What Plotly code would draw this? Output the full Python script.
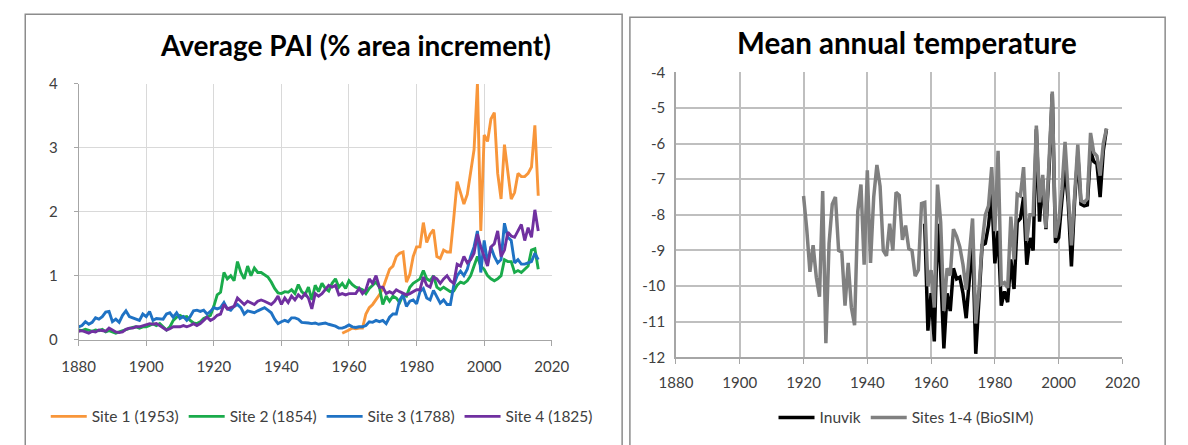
import plotly.graph_objects as go

# ---- Average PAI (% area increment), 1880-2016 ----
pai_start = 1880
site1_start = 1958

site1_pai = [
    0.10, 0.12,
    0.15, 0.18, 0.17, 0.18, 0.18, 0.40, 0.50, 0.55, 0.62, 0.70,
    0.80, 0.95, 1.10, 1.15, 1.30, 1.35, 1.37, 0.90, 1.02, 1.30,
    1.45, 1.45, 1.83, 1.52, 1.65, 1.72, 1.30, 1.27, 1.40, 1.37,
    1.37, 1.90, 2.47, 2.30, 2.12, 2.27, 2.60, 2.97, 4.00, 1.70,
    3.20, 3.10, 3.45, 3.55, 2.60, 2.20, 3.05, 2.60, 2.20, 2.30,
    2.60, 2.55, 2.55, 2.60, 2.70, 3.35, 2.25,
]

site2_pai = [
    0.15, 0.14, 0.16, 0.15, 0.13, 0.15, 0.14, 0.16, 0.12, 0.14,
    0.12, 0.10, 0.12, 0.14, 0.16, 0.17, 0.19, 0.20, 0.18, 0.20,
    0.20, 0.22, 0.25, 0.22, 0.25, 0.20, 0.15, 0.20, 0.30, 0.35,
    0.38, 0.35, 0.36, 0.30, 0.26, 0.25, 0.28, 0.33, 0.35, 0.38,
    0.52, 0.70, 0.74, 1.05, 0.95, 1.00, 0.92, 1.22, 1.05, 0.95,
    1.15, 1.00, 1.12, 1.05, 1.05, 1.02, 0.98, 0.90, 0.80, 0.73,
    0.72, 0.75, 0.74, 0.78, 0.72, 0.86, 0.75, 0.70, 0.82, 0.62,
    0.85, 0.75, 0.88, 0.80, 0.76, 0.88, 0.95, 0.82, 0.88, 0.80,
    0.92, 0.86, 0.82, 0.80, 0.78, 0.72, 0.80, 0.85, 0.90, 0.82,
    0.55, 0.68, 0.60, 0.68, 0.65, 0.58, 0.70, 0.68, 0.82, 0.88,
    0.92, 0.95, 1.08, 0.95, 0.92, 1.00, 0.82, 0.78, 0.82, 0.78,
    0.75, 0.76, 0.85, 0.90, 0.88, 0.92, 1.00, 1.15, 1.30, 1.15,
    1.10, 1.00, 0.95, 0.92, 0.95, 1.00, 1.25, 1.22, 1.22, 1.05,
    1.08, 1.05, 1.10, 1.15, 1.40, 1.42, 1.10,
]

site3_pai = [
    0.20, 0.22, 0.28, 0.24, 0.27, 0.34, 0.32, 0.36, 0.43, 0.44,
    0.28, 0.32, 0.27, 0.38, 0.45, 0.36, 0.34, 0.32, 0.30, 0.40,
    0.36, 0.44, 0.30, 0.33, 0.32, 0.32, 0.40, 0.42, 0.35, 0.42,
    0.33, 0.36, 0.30, 0.36, 0.45, 0.46, 0.44, 0.46, 0.40, 0.44,
    0.50, 0.48, 0.50, 0.58, 0.48, 0.46, 0.52, 0.55, 0.50, 0.40,
    0.45, 0.44, 0.42, 0.45, 0.48, 0.50, 0.46, 0.42, 0.32, 0.25,
    0.28, 0.30, 0.28, 0.34, 0.34, 0.32, 0.27, 0.27, 0.26, 0.25,
    0.26, 0.24, 0.25, 0.26, 0.24, 0.23, 0.21, 0.18, 0.18, 0.20,
    0.23, 0.20, 0.19, 0.20, 0.20, 0.22, 0.28, 0.27, 0.30, 0.28,
    0.30, 0.25, 0.35, 0.40, 0.40, 0.62, 0.70, 0.52, 0.60, 0.62,
    0.56, 0.75, 0.80, 0.65, 0.62, 0.77, 0.68, 0.57, 0.62, 0.55,
    0.55, 0.85, 1.00, 1.07, 1.00, 1.10, 1.30, 1.45, 1.70, 1.05,
    1.55, 1.20, 1.45, 1.30, 1.20, 1.25, 1.82, 1.60, 1.55, 1.20,
    1.25, 1.18, 1.18, 1.20, 1.22, 1.35, 1.25,
]

site4_pai = [
    0.13, 0.14, 0.12, 0.10, 0.13, 0.12, 0.15, 0.14, 0.13, 0.18,
    0.15, 0.12, 0.11, 0.12, 0.16, 0.18, 0.18, 0.20, 0.20, 0.22,
    0.24, 0.25, 0.24, 0.25, 0.22, 0.18, 0.15, 0.17, 0.20, 0.20,
    0.20, 0.22, 0.20, 0.22, 0.25, 0.22, 0.25, 0.30, 0.35, 0.30,
    0.33, 0.38, 0.40, 0.55, 0.48, 0.50, 0.52, 0.65, 0.60, 0.55,
    0.60, 0.58, 0.55, 0.60, 0.62, 0.60, 0.58, 0.55, 0.60, 0.68,
    0.55, 0.65, 0.58, 0.68, 0.62, 0.70, 0.65, 0.72, 0.65, 0.48,
    0.72, 0.68, 0.72, 0.78, 0.85, 0.82, 0.85, 0.70, 0.72, 0.70,
    0.72, 0.72, 0.72, 0.80, 0.72, 0.78, 0.95, 0.88, 1.00, 0.82,
    0.82, 0.72, 0.75, 0.72, 0.78, 0.75, 0.72, 0.70, 0.72, 0.75,
    0.78, 0.78, 0.98, 0.85, 0.82, 0.98, 0.95, 0.88, 0.95, 1.00,
    0.92, 0.88, 1.18, 1.15, 1.30, 1.20, 1.25, 1.35, 1.65, 1.45,
    1.30, 1.15, 1.45, 1.50, 1.70, 1.30, 1.40, 1.68, 1.62, 1.60,
    1.70, 1.80, 1.55, 1.75, 1.60, 2.03, 1.70,
]

pai_names = ["Site 1 (1953)", "Site 2 (1854)", "Site 3 (1788)", "Site 4 (1825)"]
pai_colors = ["#F8963A", "#1AAB4B", "#1F72C4", "#7030A0"]

# ---- Mean annual temperature ----
biosim_start = 1920
inuvik_start = 1958

biosim_temp = [
    -7.47, -8.40, -9.60, -8.85, -9.75, -10.30, -7.33, -11.60, -8.80, -7.70,
    -7.50, -9.00, -9.05, -10.55, -9.35, -10.60, -11.10, -7.90, -7.15, -9.40,
    -6.75, -9.35, -7.50, -6.60, -7.20, -9.00, -9.15, -8.25, -9.00, -7.37,
    -7.45, -8.70, -8.30, -8.95, -9.00, -9.72, -9.55, -7.68, -7.65, -10.00,
    -9.55, -10.60, -7.15, -8.20, -10.70, -9.50, -9.70, -8.40, -8.60, -8.90,
    -9.40, -10.10, -9.10, -8.10, -11.05, -10.10, -8.80, -8.00, -7.75, -6.66,
    -8.46, -6.20, -9.95, -9.90, -10.05, -8.05, -9.25, -7.42, -7.47, -6.66,
    -8.73, -8.00, -8.00, -5.49, -7.65, -6.88, -8.37, -6.60, -4.54, -8.64,
    -8.19, -7.30, -5.95, -7.40, -8.86, -7.47, -6.03, -7.60, -7.65, -7.55,
    -5.70, -6.25, -6.35, -6.90, -6.00, -5.58,
]

inuvik_temp = [
    -8.25, -11.25, -10.20, -11.55, -8.25, -9.60, -11.75, -10.20, -10.70, -9.50,
    -9.80, -9.75, -10.20, -10.90, -9.80, -8.70, -11.90, -10.50, -8.85, -8.80,
    -8.30, -7.40, -9.36, -8.45, -10.55, -10.15, -10.45, -9.25, -10.08, -8.20,
    -8.10, -7.50, -9.40, -8.65, -9.00, -5.60, -8.19, -7.00, -8.40, -6.70,
    -4.60, -8.78, -8.64, -7.60, -6.66, -7.65, -9.45, -7.60, -6.30, -7.70,
    -7.75, -7.72, -6.20, -6.50, -6.57, -7.50, -6.20, -5.58,
]

x_ticks = [1880, 1900, 1920, 1940, 1960, 1980, 2000, 2020]
pai_ticks = [0, 1, 2, 3, 4]
temp_ticks = [-12, -11, -10, -9, -8, -7, -6, -5, -4]
# plain hyphen-minus labels for the temperature axis
temp_tick_text = [str(t) for t in temp_ticks]

# ---- page geometry (pixels) ----
W, H = 1188, 445
FONT = "Lato"
TICK_COLOR = "#404040"


def px_x(p):
    return p / W


def px_y(p):
    return 1 - p / H


def years(start, values):
    return list(range(start, start + len(values)))


fig = go.Figure()

pai_series = [
    (site1_start, site1_pai),
    (pai_start, site2_pai),
    (pai_start, site3_pai),
    (pai_start, site4_pai),
]
for (start, vals), name, color in zip(pai_series, pai_names, pai_colors):
    fig.add_trace(go.Scatter(
        x=years(start, vals), y=vals, name=name, mode="lines",
        line=dict(color=color, width=2.9), xaxis="x", yaxis="y",
        legend="legend",
    ))

fig.add_trace(go.Scatter(
    x=years(inuvik_start, inuvik_temp), y=inuvik_temp, name="Inuvik",
    mode="lines", line=dict(color="#000000", width=3.5),
    xaxis="x2", yaxis="y2", legend="legend2",
))
fig.add_trace(go.Scatter(
    x=years(biosim_start, biosim_temp), y=biosim_temp,
    name="Sites 1-4 (BioSIM)", mode="lines",
    line=dict(color="#808080", width=3.5),
    xaxis="x2", yaxis="y2", legend="legend2",
))

tick_font = dict(family=FONT, size=15, color=TICK_COLOR)

left_x = dict(
    domain=[px_x(63.5), px_x(551)], range=[1880, 2020], tickvals=x_ticks,
    showgrid=True, gridcolor="#D9D9D9", gridwidth=1,
    showline=True, linecolor="#A6A6A6", linewidth=1,
    ticks="outside", ticklen=5, tickcolor="#A6A6A6", ticklabelstandoff=8,
    tickfont=tick_font, zeroline=False, anchor="y", fixedrange=True,
)
left_y = dict(
    domain=[px_y(343.5), px_y(77)], range=[0, 4], tickvals=pai_ticks,
    showgrid=True, gridcolor="#D9D9D9", gridwidth=1,
    showline=True, linecolor="#A6A6A6", linewidth=1,
    ticks="outside", ticklen=4, tickcolor="#A6A6A6", ticklabelstandoff=13,
    tickfont=tick_font, zeroline=False, anchor="x", fixedrange=True,
)
right_x = dict(
    domain=[px_x(679), px_x(1139)], range=[1880, 2020], tickvals=x_ticks,
    showgrid=True, gridcolor="#BFBFBF", gridwidth=1.6,
    showline=True, linecolor="#A6A6A6", linewidth=1.6,
    ticks="outside", ticklen=5, tickcolor="#A6A6A6", ticklabelstandoff=6,
    tickfont=tick_font, zeroline=False, anchor="y2", fixedrange=True,
)
right_y = dict(
    domain=[px_y(362), px_y(65)], range=[-12, -4], tickvals=temp_ticks,
    ticktext=temp_tick_text,
    showgrid=True, gridcolor="#BFBFBF", gridwidth=1.6,
    showline=True, linecolor="#A6A6A6", linewidth=1.6,
    ticks="", ticklabelstandoff=6, tickfont=tick_font, zeroline=False,
    anchor="x2", fixedrange=True,
)

legend_common = dict(
    orientation="h", font=dict(family=FONT, size=15.5, color="#404040"),
    bgcolor="rgba(0,0,0,0)", xanchor="center", yanchor="middle",
    itemwidth=36, tracegroupgap=0,
)

fig.update_layout(
    width=W, height=H, margin=dict(l=0, r=0, t=0, b=0),
    paper_bgcolor="white", plot_bgcolor="white",
    font=dict(family=FONT, color="#404040"),
    xaxis=left_x, yaxis=left_y, xaxis2=right_x, yaxis2=right_y,
    legend=dict(x=px_x(314), y=px_y(424), **legend_common),
    legend2=dict(x=px_x(916), y=px_y(425), **legend_common),
    annotations=[
        dict(text="<b>Average PAI (% area increment)</b>",
             x=px_x(349), y=px_y(36), xref="paper", yref="paper",
             xanchor="center", yanchor="middle", showarrow=False,
             font=dict(family=FONT, size=28, color="#000000")),
        dict(text="<b>Mean annual temperature</b>",
             x=px_x(917), y=px_y(34), xref="paper", yref="paper",
             xanchor="center", yanchor="middle", showarrow=False,
             font=dict(family=FONT, size=29.5, color="#000000")),
    ],
    shapes=[
        dict(type="rect", xref="paper", yref="paper",
             x0=px_x(8.5), x1=px_x(623.5), y0=px_y(H + 20), y1=px_y(4.5),
             line=dict(color="#8C8C8C", width=1.5)),
        dict(type="rect", xref="paper", yref="paper",
             x0=px_x(631.5), x1=px_x(1183), y0=px_y(H + 20), y1=px_y(7.5),
             line=dict(color="#8C8C8C", width=1.5)),
    ],
)

fig.write_html("out.html", config={"displayModeBar": False})
